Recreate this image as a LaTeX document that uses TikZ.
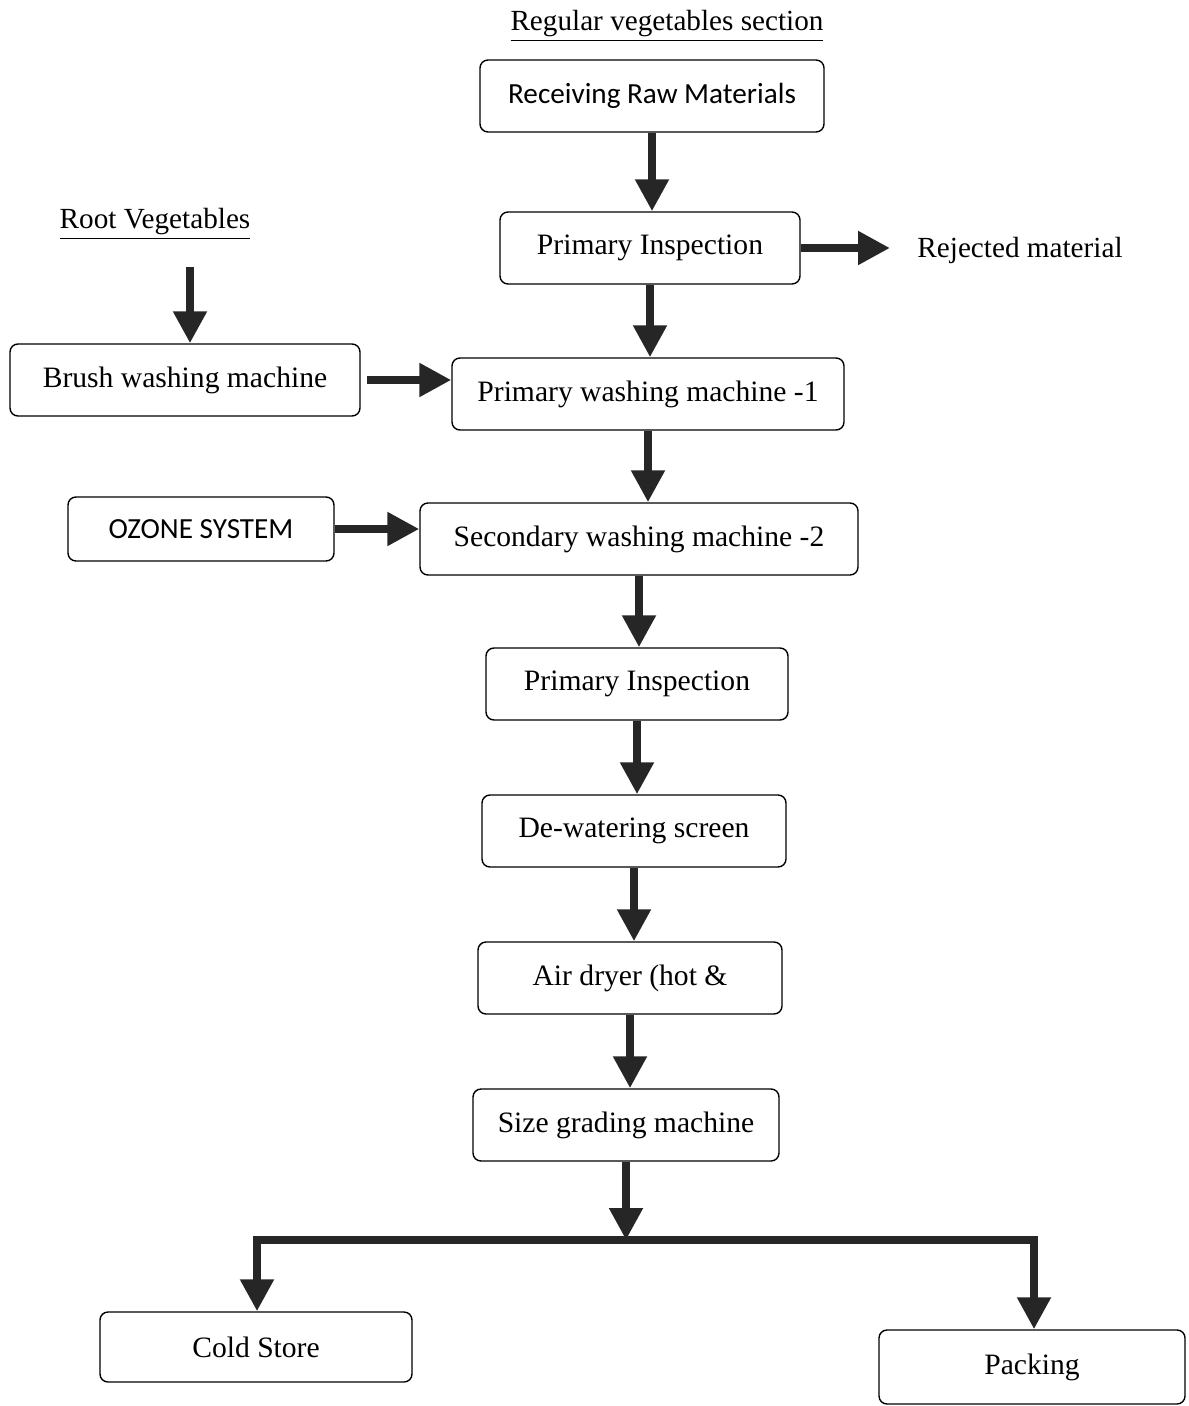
\documentclass[tikz,border=0pt]{standalone}
\usepackage{fontspec}
\setmainfont{Liberation Serif}
\newfontfamily\calfont{Carlito}
\usetikzlibrary{arrows.meta}

\begin{document}
\begin{tikzpicture}[x=0.5pt,y=-0.5pt,
  stepbox/.style={draw,rounded corners=4pt,line width=0.7pt,minimum height=36pt,inner sep=0pt,font=\fontsize{14.8}{17}\selectfont},
  flow/.style={line width=4pt,draw=black!85,-{Triangle[width=16pt,length=16pt]}},
  title/.style={font=\fontsize{14.6}{17}\selectfont}]
\useasboundingbox (0,0) rectangle (1188,1406);

% titles
\node[title] (regular) at (667,26) {\underline{Regular vegetables section}};
\node[title] (root) at (155,224) {\underline{Root Vegetables}};

% main line
\node[stepbox,minimum width=172pt,font=\calfont\fontsize{14.6}{17}\selectfont] (recv) at (652,96) {Receiving Raw Materials};
\node[stepbox,minimum width=150pt] (insp1) at (650,248) {Primary Inspection};
\node[title] (reject) at (1020,250) {Rejected material};
\node[stepbox,minimum width=196pt] (wash1) at (648,394) {Primary washing machine -1};
\node[stepbox,minimum width=219pt] (wash2) at (639,539) {Secondary washing machine -2};
\node[stepbox,minimum width=151pt] (insp2) at (637,684) {Primary Inspection};
\node[stepbox,minimum width=152pt] (dewater) at (634,831) {De-watering screen};
\node[stepbox,minimum width=152pt] (dryer) at (630,978) {Air dryer (hot \&};
\node[stepbox,minimum width=153pt] (grading) at (626,1125) {Size grading machine};

% side inputs
\node[stepbox,minimum width=175pt] (brush) at (185,380) {Brush washing machine};
\node[stepbox,minimum width=133pt,minimum height=32pt,font=\calfont\fontsize{14.6}{17}\selectfont] (ozone) at (201,529) {OZONE SYSTEM};

% outputs
\node[stepbox,minimum width=156pt,minimum height=35pt] (cold) at (256,1347) {Cold Store};
\node[stepbox,minimum width=153pt,minimum height=37pt] (packing) at (1032,1367) {Packing};

\draw[flow] (recv.south) -- (recv.south |- insp1.north);
\draw[flow] (insp1.south) -- (insp1.south |- wash1.north);
\draw[flow] (wash1.south) -- (wash1.south |- wash2.north);
\draw[flow] (wash2.south) -- (wash2.south |- insp2.north);
\draw[flow] (insp2.south) -- (insp2.south |- dewater.north);
\draw[flow] (dewater.south) -- (dewater.south |- dryer.north);
\draw[flow] (dryer.south) -- (dryer.south |- grading.north);

\draw[flow] (insp1.east) -- (insp1.east -| 890,0);
\coordinate (rootin) at (190,267);
\draw[flow] (rootin) -- (rootin |- brush.north);
\draw[flow] (brush.east -| 367,0) -- (brush.east -| wash1.west);
\draw[flow] (ozone.east) -- (ozone.east -| wash2.west);

% split to the outputs
\coordinate (split) at (624,1240);
\coordinate (left) at (257,1240);
\coordinate (right) at (1034,1240);
\draw[flow] (grading.south) -- (grading.south |- split);
\draw[line width=4pt,draw=black!85] (left) -- (right);
\draw[flow] ([yshift=2pt]left) -- (left |- cold.north);
\draw[flow] ([yshift=2pt]right) -- (right |- packing.north);
\end{tikzpicture}
\end{document}
